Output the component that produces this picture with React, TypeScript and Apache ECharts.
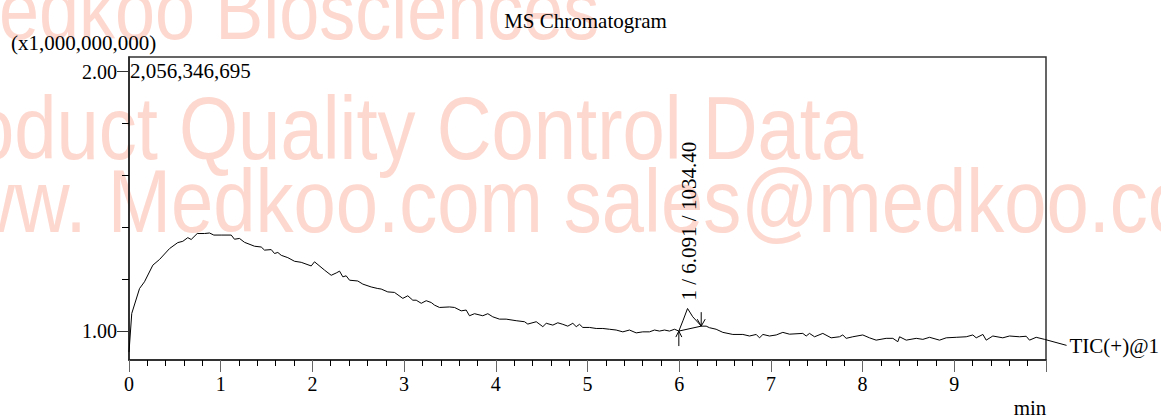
import React, { useEffect, useRef } from "react";
import * as echarts from "echarts";

// ---- data ----
const times = [
  0.000, 0.030, 0.115, 0.169, 0.260, 0.333, 0.442, 0.532, 0.587, 0.641, 0.678, 0.744, 0.823, 0.878, 0.925,
  1.005, 1.115, 1.150, 1.205, 1.260, 1.369, 1.442, 1.478, 1.551, 1.587, 1.623, 1.660, 1.732, 1.805, 1.878, 1.987,
  2.023, 2.132, 2.205, 2.260, 2.296, 2.332, 2.368, 2.405, 2.495, 2.550, 2.641, 2.713, 2.750, 2.822, 2.895, 2.986,
  3.040, 3.095, 3.132, 3.187, 3.241, 3.296, 3.332, 3.386, 3.495, 3.550, 3.623, 3.677, 3.713, 3.768, 3.858, 3.913, 3.967,
  4.040, 4.113, 4.222, 4.313, 4.349, 4.441, 4.513, 4.550, 4.622, 4.676, 4.731, 4.785, 4.840, 4.877, 4.913, 4.949,
  5.022, 5.095, 5.167, 5.240, 5.313, 5.385, 5.458, 5.531, 5.603, 5.676, 5.731, 5.785, 5.840, 5.894, 5.949, 5.996,
  6.043, 6.091, 6.148, 6.221, 6.240, 6.294, 6.330, 6.403, 6.476, 6.585, 6.694, 6.767, 6.840, 6.876, 6.913, 6.985,
  7.058, 7.130, 7.203, 7.348, 7.385, 7.421, 7.476, 7.566, 7.657, 7.748, 7.784, 7.821, 7.893,
  8.002, 8.075, 8.148, 8.257, 8.330, 8.384, 8.403, 8.476, 8.585, 8.657, 8.730, 8.839, 8.912,
  9.021, 9.130, 9.202, 9.239, 9.312, 9.348, 9.420, 9.529, 9.602, 9.711, 9.784, 9.820, 9.893, 9.984,
];
const intensity = [
  0.919, 1.068, 1.164, 1.190, 1.254, 1.276, 1.318, 1.341, 1.346, 1.360, 1.353, 1.376, 1.376, 1.378, 1.370,
  1.370, 1.370, 1.354, 1.357, 1.342, 1.327, 1.324, 1.312, 1.314, 1.299, 1.303, 1.292, 1.283, 1.269, 1.265, 1.251,
  1.267, 1.235, 1.215, 1.224, 1.231, 1.209, 1.213, 1.196, 1.193, 1.181, 1.170, 1.164, 1.162, 1.151, 1.149, 1.126,
  1.136, 1.119, 1.119, 1.107, 1.117, 1.110, 1.100, 1.091, 1.093, 1.091, 1.078, 1.081, 1.059, 1.067, 1.059, 1.067, 1.055,
  1.046, 1.046, 1.040, 1.036, 1.027, 1.036, 1.017, 1.030, 1.023, 1.032, 1.026, 1.019, 1.030, 1.017, 1.026, 1.014,
  1.014, 1.010, 1.010, 1.007, 1.004, 0.997, 1.004, 0.993, 0.997, 0.997, 1.004, 1.000, 1.004, 1.000, 1.007, 1.000,
  1.042, 1.087, 1.055, 1.027, 1.019, 1.019, 1.013, 1.007, 0.995, 0.987, 0.987, 0.981, 0.987, 0.974, 0.987, 0.981,
  0.985, 0.995, 0.988, 0.991, 0.981, 0.991, 0.978, 0.991, 0.974, 0.978, 0.985, 0.972, 0.978,
  0.985, 0.974, 0.965, 0.972, 0.972, 0.959, 0.978, 0.965, 0.972, 0.968, 0.976, 0.965, 0.974,
  0.976, 0.978, 0.985, 0.974, 0.987, 0.965, 0.981, 0.974, 0.981, 0.978, 0.980, 0.965, 0.976, 0.968,
];
// peak 1: start, end, apex (min, x1e9)
const peakStart = [5.996, 1.0];
const peakEnd = [6.24, 1.019];
const peakApex = [6.091, 1.087];
const peakLabel = "1 / 6.091 / 1034.40";
const yMin = 0.8885;
const yMax = 2.056346695;
const yMajor = [1.0, 2.0];
const yMinor = [1.2, 1.4, 1.6, 1.8];
const xTicksMax = 10;
const traceName = "TIC(+)@1";
const maxText = "2,056,346,695";
const scaleText = "(x1,000,000,000)";
const watermarkLines = ["Medkoo Biosciences", "Product Quality Control Data", "www. Medkoo.com sales@medkoo.com"];

const SERIF = '"Liberation Serif", "Times New Roman", serif';
const SANS = '"Liberation Sans", Arial, sans-serif';
const WM = "#fdd8cf";

export default function App() {
  const ref = useRef<HTMLDivElement>(null);
  useEffect(() => {
    if (!ref.current) return;
    const chart = echarts.init(ref.current, null, { renderer: "svg" });
    const lineData = times.map((t, i) => [t, intensity[i]]);
    const last = lineData[lineData.length - 1];
    const ink = { stroke: "#000", lineWidth: 1, fill: "none" };
    chart.setOption({
      animation: false,
      graphic: [
        { type: "text", x: -61, y: 10.5, scaleY: 1.16, z: -10, silent: true,
          style: { text: watermarkLines[0], font: `72px ${SANS}`, fill: WM, align: "left", verticalAlign: "middle" } },
        { type: "text", x: -104, y: 127.8, scaleY: 1.16, z: -10, silent: true,
          style: { text: watermarkLines[1], font: `76px ${SANS}`, fill: WM, align: "left", verticalAlign: "middle" } },
        { type: "text", x: -95, y: 200.7, scaleY: 1.16, z: -10, silent: true,
          style: { text: watermarkLines[2], font: `76px ${SANS}`, fill: WM, align: "left", verticalAlign: "middle" } },
        { type: "text", x: 585.5, y: 20.6, z: 10,
          style: { text: "MS Chromatogram", font: `21px ${SERIF}`, fill: "#000", align: "center", verticalAlign: "middle" } },
        { type: "text", x: 11, y: 43.3, z: 10,
          style: { text: scaleText, font: `21px ${SERIF}`, fill: "#000", align: "left", verticalAlign: "middle" } },
        { type: "text", x: 130, y: 70.5, z: 10,
          style: { text: maxText, font: `21px ${SERIF}`, fill: "#000", align: "left", verticalAlign: "middle" } },
        { type: "text", x: 1030, y: 408, z: 10,
          style: { text: "min", font: `21px ${SERIF}`, fill: "#000", align: "center", verticalAlign: "middle" } },
      ],
      grid: {
        left: 129, top: 57, width: 917, height: 303,
        show: true, borderColor: "#333", borderWidth: 1.5, backgroundColor: "transparent",
      },
      xAxis: {
        type: "value", min: 0, max: xTicksMax, interval: 1,
        axisLine: { show: true, lineStyle: { color: "#222", width: 1.5 } },
        axisTick: { show: true, length: 12, lineStyle: { color: "#666", width: 1 } },
        minorTick: { show: true, splitNumber: 5, length: 6, lineStyle: { color: "#000", width: 1 } },
        splitLine: { show: false },
        axisLabel: {
          margin: 14, color: "#000", fontFamily: SERIF, fontSize: 20,
          formatter: (v: number) => (v >= xTicksMax ? "" : String(v)),
        },
      },
      yAxis: [
        {
          type: "value", min: yMin, max: yMax, position: "left",
          axisLine: { show: true, lineStyle: { color: "#222", width: 1.5 } },
          axisTick: { show: true, length: 12, customValues: yMajor, lineStyle: { color: "#333", width: 1 } },
          axisLabel: {
            margin: 12, color: "#000", fontFamily: SERIF, fontSize: 20, customValues: yMajor,
            formatter: (v: number) => v.toFixed(2),
          },
          splitLine: { show: false },
        },
        {
          type: "value", min: yMin, max: yMax, position: "left", offset: 0,
          axisLine: { show: false },
          axisTick: { show: true, length: 7, customValues: yMinor, lineStyle: { color: "#000", width: 1 } },
          axisLabel: { show: false },
          splitLine: { show: false },
        },
      ],
      series: [
        {
          type: "line", data: lineData, symbol: "none", z: 5,
          lineStyle: { color: "#000", width: 1 },
        },
        {
          type: "custom", clip: false, z: 6,
          data: [[peakStart[0], peakStart[1], peakEnd[0], peakEnd[1], peakApex[0], peakApex[1]]],
          encode: { x: [0, 2, 4], y: [1, 3, 5] },
          renderItem: (params: any, api: any) => {
            const s = api.coord([api.value(0), api.value(1)]);
            const e = api.coord([api.value(2), api.value(3)]);
            const a = api.coord([api.value(4), api.value(5)]);
            return {
              type: "group",
              children: [
                { type: "line", shape: { x1: s[0], y1: s[1], x2: e[0], y2: e[1] }, style: ink },
                { type: "line", shape: { x1: s[0], y1: s[1] + 15, x2: s[0], y2: s[1] }, style: ink },
                { type: "polyline", shape: { points: [[s[0] - 3, s[1] + 6], [s[0], s[1]], [s[0] + 3, s[1] + 6]] }, style: ink },
                { type: "line", shape: { x1: e[0], y1: e[1] - 14, x2: e[0], y2: e[1] }, style: ink },
                { type: "polyline", shape: { points: [[e[0] - 4, e[1] - 7], [e[0], e[1]], [e[0] + 4, e[1] - 7]] }, style: ink },
                {
                  type: "text", x: a[0] + 1, y: a[1] - 8, rotation: Math.PI / 2,
                  style: { text: peakLabel, font: `21px ${SERIF}`, fill: "#000", align: "left", verticalAlign: "middle" },
                },
              ],
            };
          },
        },
        {
          type: "custom", clip: false, z: 6,
          data: [[last[0], last[1]]],
          renderItem: (params: any, api: any) => {
            const p = api.coord([api.value(0), api.value(1)]);
            return {
              type: "group",
              children: [
                { type: "line", shape: { x1: p[0], y1: p[1], x2: p[0] + 22, y2: p[1] + 6 }, style: ink },
                {
                  type: "text", x: p[0] + 25, y: p[1] + 6.5,
                  style: { text: traceName, font: `21px ${SERIF}`, fill: "#000", align: "left", verticalAlign: "middle" },
                },
              ],
            };
          },
        },
      ],
    });
    return () => chart.dispose();
  }, []);
  return <div ref={ref} style={{ position: "absolute", left: 0, top: 0, width: 1161, height: 416 }} />;
}
